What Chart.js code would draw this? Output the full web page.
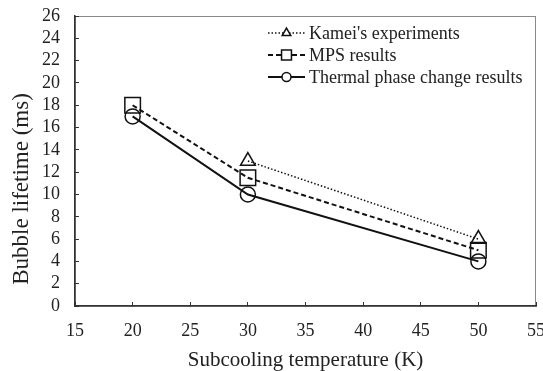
<!DOCTYPE html>
<html>
<head>
<meta charset="utf-8">
<title>Bubble lifetime vs subcooling</title>
<script src="https://cdn.jsdelivr.net/npm/chart.js@4.4.1/dist/chart.umd.min.js"></script>
<style>
    html, body { margin: 0; padding: 0; background: #fff; }
    #wrap { width: 543px; height: 371px; position: relative; }
</style>
</head>
<body>
<div id="wrap"><canvas id="bubbleChart"></canvas></div>
<script>
// Data
const subcooling = [20, 30, 50];
const kameiExp = [null, 13, 6];
const mpsResults = [18, 11.5, 5];
const thermalResults = [17, 10, 4];
const seriesNames = ["Kamei's experiments", 'MPS results', 'Thermal phase change results'];
const xTicks = [15, 20, 25, 30, 35, 40, 45, 50, 55];
const yTicks = [0, 2, 4, 6, 8, 10, 12, 14, 16, 18, 20, 22, 24, 26];
const yTitle = 'Bubble lifetime (ms)';

const SERIF = "'Liberation Serif', 'Times New Roman', serif";
Chart.defaults.font.family = SERIF;
Chart.defaults.color = '#222';

function toPoints(ys) {
    return subcooling.map((x, i) => ({ x: x, y: ys[i] }));
}

// label overhang should not shrink the plot area: the reference lets "55" run off the edge
function fixBox(width, height) {
    return (scale) => {
        if (width) scale.width = width;
        if (height) scale.height = height;
        scale.paddingTop = 0;
        scale.paddingBottom = 0;
        scale.paddingLeft = 0;
        scale.paddingRight = 0;
    };
}

// gray frame round the plot area (left/bottom are overdrawn by the axes)
const framePlugin = {
    id: 'frame',
    beforeDraw(chart) {
        const { ctx, chartArea: a } = chart;
        ctx.save();
        ctx.strokeStyle = '#8a8a8a';
        ctx.lineWidth = 1;
        ctx.strokeRect(a.left + 0.5, a.top + 0.5, a.right - a.left - 1, a.bottom - a.top);
        ctx.restore();
    }
};

// y title sits a bit below the middle of the axis in the reference
const yTitlePlugin = {
    id: 'yTitle',
    afterDraw(chart) {
        const ctx = chart.ctx;
        ctx.save();
        ctx.translate(22, 189);
        ctx.rotate(-Math.PI / 2);
        ctx.font = '23px ' + SERIF;
        ctx.fillStyle = '#222';
        ctx.textAlign = 'center';
        ctx.textBaseline = 'middle';
        ctx.fillText(yTitle, 0, 0);
        ctx.restore();
    }
};

// legend inside the plot: line sample + marker + label
const insideLegend = {
    id: 'insideLegend',
    afterDatasetsDraw(chart) {
        const ctx = chart.ctx;
        const x0 = 268, x1 = 305, y0 = 33, dy = 22;
        chart.data.datasets.forEach((ds, i) => {
            const y = y0 + i * dy;
            ctx.save();
            ctx.strokeStyle = ds.borderColor;
            ctx.lineWidth = ds.borderWidth;
            ctx.setLineDash(ds.borderDash || []);
            ctx.beginPath();
            ctx.moveTo(x0, y);
            ctx.lineTo(x1, y);
            ctx.stroke();
            ctx.setLineDash([]);
            ctx.fillStyle = '#fff';
            ctx.lineWidth = 1.5;
            Chart.helpers.drawPoint(ctx, {
                pointStyle: ds.pointStyle,
                radius: ds.legendRadius,
                borderWidth: 1.5,
                rotation: 0
            }, (x0 + x1) / 2, y);
            ctx.fillStyle = '#222';
            ctx.font = '18px ' + SERIF;
            ctx.textBaseline = 'middle';
            ctx.fillText(ds.label, x1 + 4, y + 1);
            ctx.restore();
        });
    }
};

const ctx = document.getElementById('bubbleChart').getContext('2d');
new Chart(ctx, {
    type: 'line',
    data: {
        datasets: [
            {
                label: seriesNames[0],
                data: toPoints(kameiExp),
                borderColor: '#111',
                borderWidth: 1.5,
                borderDash: [1.5, 2],
                pointStyle: 'triangle',
                pointRadius: 8.5,
                legendRadius: 5,
                pointBorderWidth: 1.5,
                pointBackgroundColor: 'rgba(255,255,255,0)',
                pointBorderColor: '#111',
                tension: 0
            },
            {
                label: seriesNames[1],
                data: toPoints(mpsResults),
                borderColor: '#111',
                borderWidth: 2,
                borderDash: [5, 3],
                pointStyle: 'rect',
                pointRadius: 11,
                legendRadius: 7,
                pointBorderWidth: 1.5,
                pointBackgroundColor: 'rgba(255,255,255,0)',
                pointBorderColor: '#111',
                tension: 0
            },
            {
                label: seriesNames[2],
                data: toPoints(thermalResults),
                borderColor: '#111',
                borderWidth: 2,
                pointStyle: 'circle',
                pointRadius: 7.5,
                legendRadius: 4.5,
                pointBorderWidth: 1.5,
                pointBackgroundColor: 'rgba(255,255,255,0)',
                pointBorderColor: '#111',
                tension: 0
            }
        ]
    },
    options: {
        responsive: true,
        maintainAspectRatio: false,
        animation: false,
        layout: {
            autoPadding: false,
            padding: { top: 16, right: 7, left: 0, bottom: 0 }
        },
        plugins: {
            legend: { display: false },
            tooltip: { enabled: false }
        },
        scales: {
            x: {
                type: 'linear',
                min: xTicks[0],
                max: xTicks[xTicks.length - 1],
                afterBuildTicks: (scale) => { scale.ticks = xTicks.map(v => ({ value: v })); },
                afterFit: fixBox(0, 65),
                grid: {
                    drawOnChartArea: false,
                    tickLength: -4,
                    color: '#333'
                },
                border: { color: '#333', width: 1.5 },
                ticks: {
                    padding: 18,
                    maxRotation: 0,
                    autoSkip: false,
                    font: { size: 18 },
                    color: '#222'
                },
                title: {
                    display: true,
                    text: 'Subcooling temperature (K)',
                    font: { size: 21, lineHeight: 1.0 },
                    color: '#222',
                    padding: { top: 0, bottom: 0 }
                }
            },
            y: {
                min: yTicks[0],
                max: yTicks[yTicks.length - 1],
                afterBuildTicks: (scale) => { scale.ticks = yTicks.map(v => ({ value: v })); },
                afterFit: fixBox(75, 0),
                grid: {
                    drawOnChartArea: false,
                    tickLength: -4,
                    color: '#333'
                },
                border: { color: '#333', width: 1.5 },
                ticks: {
                    padding: 19,
                    autoSkip: false,
                    font: { size: 18 },
                    color: '#222'
                },
                title: { display: false }
            }
        }
    },
    plugins: [framePlugin, insideLegend, yTitlePlugin]
});
</script>
</body>
</html>
